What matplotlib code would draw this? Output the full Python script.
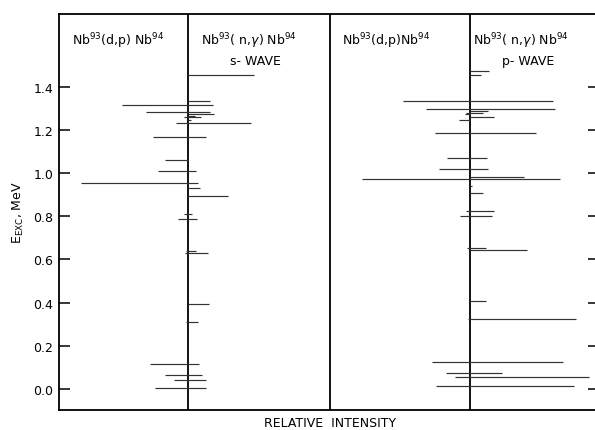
import matplotlib
matplotlib.use("Agg")
from matplotlib import pyplot as plt

# levels, energies in MeV, intensities in arbitrary relative units
# left pair: Nb93(d,p) drawn to the left, s-wave (n,gamma) drawn to the right
dp1_E = [1.316, 1.283, 1.257, 1.231, 1.168, 1.061, 1.007, 0.955, 0.808, 0.785,
         0.638, 0.628, 0.311, 0.116, 0.064, 0.043, 0.003]
dp1_I = [6.6, 4.2, 0.4, 1.2, 3.5, 2.3, 3.0, 10.7, 0.4, 1.0,
         0.2, 0.3, 0.2, 3.8, 2.3, 1.4, 3.3]

s_E = [1.456, 1.332, 1.316, 1.283, 1.272, 1.263, 1.257, 1.245, 1.231, 1.168,
       1.007, 0.955, 0.932, 0.893, 0.808, 0.785, 0.638, 0.628, 0.395, 0.311,
       0.116, 0.064, 0.043, 0.003]
s_I = [6.6, 2.2, 2.5, 2.2, 2.6, 0.7, 1.3, 0.3, 6.3, 1.8,
       0.8, 1.0, 1.2, 4.0, 0.4, 0.9, 0.8, 2.0, 2.1, 1.0,
       1.1, 1.4, 1.8, 1.8]

# right pair: Nb93(d,p) to the left, p-wave (n,gamma) to the right
dp2_E = [1.333, 1.298, 1.280, 1.272, 1.244, 1.185, 1.070, 1.018, 0.972, 0.824,
         0.801, 0.653, 0.326, 0.127, 0.072, 0.054, 0.015]
dp2_I = [6.7, 4.4, 0.4, 0.5, 1.1, 3.5, 2.3, 3.1, 10.8, 0.4,
         1.0, 0.3, 0.2, 3.8, 2.4, 1.5, 3.4]

p_E = [1.474, 1.456, 1.333, 1.298, 1.287, 1.280, 1.260, 1.185, 1.070, 1.018,
       0.982, 0.972, 0.941, 0.909, 0.824, 0.801, 0.653, 0.642, 0.408, 0.326,
       0.127, 0.072, 0.054, 0.015]
p_I = [1.9, 1.1, 8.3, 8.5, 1.8, 1.3, 2.4, 6.6, 1.7, 1.8,
       5.4, 9.0, 0.2, 1.3, 2.4, 2.2, 1.6, 5.7, 1.6, 10.6,
       9.3, 3.2, 11.9, 10.4]

yticks = [0.0, 0.2, 0.4, 0.6, 0.8, 1.0, 1.2, 1.4]

fig = plt.figure(figsize=(5.95, 4.31), dpi=100)
ax = fig.add_axes([59/595, 1 - 411/431, 536/595, 396/431])

ax.set_xlim(0, 53.6)
ax.set_ylim(-21/216, 375/216)

div1, div2, div3 = 12.9, 27.1, 41.1
for d in (div1, div2, div3):
    ax.axvline(d, color="black", lw=1.3)

lc = "#333333"
ax.hlines(dp1_E, [div1 - i for i in dp1_I], div1, color=lc, lw=0.85)
ax.hlines(s_E, div1, [div1 + i for i in s_I], color=lc, lw=0.85)
ax.hlines(dp2_E, [div3 - i for i in dp2_I], div3, color=lc, lw=0.85)
ax.hlines(p_E, div3, [div3 + i for i in p_I], color=lc, lw=0.85)

# panel headings
fs = 9
ax.text(5.9, 1.616, r"Nb$^{93}$(d,p) Nb$^{94}$", ha="center", va="center", fontsize=fs)
ax.text(19.0, 1.616, r"Nb$^{93}$( n,$\gamma$) Nb$^{94}$", ha="center", va="center", fontsize=fs)
ax.text(19.6, 1.523, "s- WAVE", ha="center", va="center", fontsize=fs)
ax.text(32.75, 1.616, r"Nb$^{93}$(d,p)Nb$^{94}$", ha="center", va="center", fontsize=fs)
ax.text(46.15, 1.616, r"Nb$^{93}$( n,$\gamma$) Nb$^{94}$", ha="center", va="center", fontsize=fs)
ax.text(46.9, 1.523, "p- WAVE", ha="center", va="center", fontsize=fs)

ax.set_yticks(yticks)
ax.set_yticklabels(["%.1f" % v for v in yticks])
ax.set_xticks([])
ax.tick_params(axis="y", direction="in", length=8, width=1.1, labelsize=9, pad=4)
ax.spines["right"].set_visible(False)
for s in ("left", "top", "bottom"):
    ax.spines[s].set_linewidth(1.3)

# short marks on the right edge
sec = ax.secondary_yaxis("right")
sec.set_yticks(yticks)
sec.set_yticklabels([])
sec.tick_params(direction="in", length=5, width=1.1)
sec.spines["right"].set_visible(False)

ax.set_ylabel(r"E$_{\mathrm{EXC}}$, MeV", fontsize=9, labelpad=5)
fig.text(330/595, 1 - 424/431, "RELATIVE  INTENSITY", ha="center", va="center", fontsize=9)

fig.savefig("out.png", dpi=100)
